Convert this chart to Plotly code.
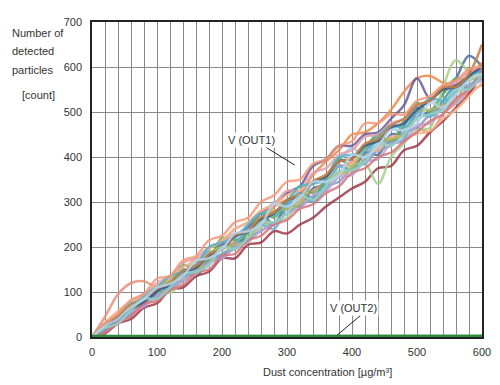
import plotly.graph_objects as go

x = [0, 20, 40, 60, 80, 100, 120, 140, 160, 180, 200, 220, 240, 260, 280, 300,
     320, 340, 360, 380, 400, 420, 440, 460, 480, 500, 520, 540, 560, 580, 600]

s01 = [0, 15, 35, 50, 80, 90, 105, 135, 140, 175, 180, 210, 220, 255, 250, 295, 290, 330, 340, 380, 370, 410, 405, 450, 450, 490, 500, 540, 575, 625, 600]
s02 = [0, 25, 45, 55, 90, 95, 130, 135, 170, 175, 205, 225, 240, 255, 290, 305, 320, 360, 390, 415, 450, 455, 475, 505, 545, 575, 580, 565, 560, 580, 610]
s03 = [0, 45, 95, 120, 124, 112, 135, 140, 175, 170, 205, 210, 235, 245, 280, 285, 305, 325, 345, 365, 390, 395, 425, 435, 465, 465, 455, 495, 520, 545, 560]
s04 = [0, 25, 40, 70, 80, 95, 130, 150, 145, 160, 200, 230, 220, 250, 300, 290, 310, 345, 340, 390, 420, 400, 420, 465, 450, 490, 530, 505, 540, 570, 580]
s05 = [0, 15, 45, 60, 90, 90, 120, 150, 135, 175, 210, 200, 235, 275, 250, 290, 320, 310, 350, 395, 380, 410, 450, 430, 470, 510, 490, 525, 560, 555, 590]
s06 = [0, 20, 40, 60, 70, 100, 120, 135, 160, 180, 205, 225, 245, 275, 295, 320, 335, 380, 395, 425, 425, 450, 455, 485, 515, 575, 530, 550, 560, 580, 595]
s07 = [0, 8, 30, 40, 65, 75, 105, 110, 135, 145, 175, 175, 205, 210, 235, 230, 250, 265, 290, 310, 330, 345, 375, 380, 415, 425, 455, 480, 510, 540, 590]
s08 = [0, 30, 40, 65, 95, 100, 110, 160, 150, 170, 220, 215, 230, 280, 265, 300, 335, 320, 350, 395, 380, 420, 450, 435, 480, 520, 500, 540, 575, 570, 590]
s09 = [0, 22, 42, 70, 95, 110, 98, 125, 150, 165, 185, 205, 210, 245, 255, 265, 300, 305, 330, 360, 380, 385, 340, 400, 430, 460, 465, 555, 615, 590, 580]
s10 = [0, 28, 52, 80, 90, 120, 135, 165, 175, 200, 210, 240, 255, 280, 295, 325, 325, 365, 375, 405, 415, 445, 450, 475, 485, 515, 525, 555, 565, 590, 595]
s11 = [0, 12, 38, 50, 80, 85, 115, 125, 150, 165, 185, 195, 220, 235, 255, 275, 295, 305, 335, 345, 375, 385, 415, 425, 455, 465, 495, 515, 545, 555, 575]
s12 = [0, 32, 58, 80, 95, 115, 130, 155, 170, 195, 215, 240, 255, 280, 295, 315, 325, 345, 355, 380, 385, 415, 415, 445, 445, 452, 458, 485, 505, 535, 565]
s13 = [0, 30, 45, 60, 90, 110, 105, 130, 160, 190, 175, 205, 240, 250, 240, 290, 320, 300, 330, 380, 370, 395, 440, 430, 440, 500, 490, 510, 555, 560, 585]
s14 = [0, 20, 45, 60, 75, 110, 125, 130, 140, 185, 200, 205, 215, 265, 280, 285, 295, 345, 355, 360, 375, 425, 435, 440, 450, 500, 505, 515, 525, 575, 580]
s15 = [0, 20, 36, 56, 68, 92, 104, 128, 140, 165, 175, 200, 212, 237, 250, 275, 287, 315, 325, 355, 360, 390, 395, 430, 435, 470, 475, 510, 520, 555, 570]
s16 = [0, 20, 50, 75, 80, 110, 135, 145, 160, 200, 210, 220, 250, 275, 270, 300, 335, 340, 355, 400, 405, 415, 445, 470, 465, 500, 530, 525, 540, 580, 590]
s17 = [0, 10, 32, 46, 74, 80, 104, 116, 144, 150, 180, 185, 215, 225, 250, 260, 285, 295, 320, 335, 365, 375, 400, 410, 435, 455, 480, 495, 530, 550, 590]
s18 = [0, 22, 40, 62, 78, 102, 116, 144, 154, 182, 194, 224, 234, 262, 274, 304, 314, 344, 356, 390, 396, 425, 435, 465, 475, 505, 525, 550, 555, 580, 600]
s19 = [0, 27, 48, 72, 84, 108, 120, 146, 158, 184, 196, 226, 236, 266, 276, 304, 316, 346, 361, 390, 396, 430, 440, 470, 485, 515, 525, 555, 556, 585, 650]
s20 = [0, 20, 30, 60, 85, 85, 110, 140, 145, 160, 200, 195, 220, 255, 255, 275, 315, 305, 335, 370, 370, 390, 430, 425, 450, 485, 495, 505, 550, 550, 585]
s21 = [0, 30, 52, 82, 96, 130, 136, 170, 180, 215, 225, 255, 265, 300, 315, 345, 350, 385, 395, 425, 435, 475, 475, 495, 495, 525, 535, 560, 570, 595, 600]
s22 = [0, 24, 40, 66, 84, 110, 118, 135, 170, 175, 195, 230, 235, 250, 295, 290, 310, 345, 345, 360, 405, 400, 425, 460, 460, 475, 520, 510, 540, 570, 585]

out2 = [2, 2, 2, 2, 2, 2, 2, 2, 2, 2, 2, 2, 2, 2, 2, 2, 2, 2, 2, 2, 2, 2, 2, 2, 2, 3, 3, 3, 2, 3, 3]

series = [s01, s02, s03, s04, s05, s06, s07, s08, s09, s10, s11,
          s12, s13, s14, s15, s16, s17, s18, s19, s20, s21, s22]
colors = ["#4a6fa5", "#ef8a4c", "#e9907c", "#a8c8e6", "#3f97a3", "#6e5a9a", "#a2394a",
          "#6fae5c", "#a9d18e", "#e6a0b0", "#8a9cc0", "#f5b48a", "#6aaed6", "#b2b55e",
          "#b9a3d6", "#56b4c8", "#d8767e", "#3b5a8c", "#c57f42", "#8fd3c1", "#f39a7a", "#b8d4ea"]

fig = go.Figure()
for ys, c in zip(series, colors):
    fig.add_trace(go.Scatter(x=x, y=ys, mode="lines",
                             line=dict(color=c, width=2.5, shape="spline", smoothing=1.0),
                             opacity=0.85, showlegend=False, hoverinfo="skip"))
fig.add_trace(go.Scatter(x=x, y=out2, mode="lines", line=dict(color="#2e8b3e", width=2.5),
                         showlegend=False, hoverinfo="skip"))

font = dict(family="Liberation Sans, Arial, sans-serif", size=11, color="#333333")

# page body has an 8px default margin, so the figure is 8px smaller and margins shifted
fig.update_layout(
    width=492, height=377,
    margin=dict(l=84, r=18, t=8, b=48),
    paper_bgcolor="white", plot_bgcolor="white",
    font=font,
    showlegend=False,
)
fig.update_xaxes(range=[0, 600], dtick=100, tick0=0, showgrid=True, gridcolor="#8a8a8a", gridwidth=1,
                 minor=dict(dtick=20, showgrid=True, gridcolor="#8a8a8a", gridwidth=1),
                 showline=True, linecolor="#222222", linewidth=1.5, mirror=True, ticks="", zeroline=False,
                 ticklabelstandoff=4)
fig.update_yaxes(range=[0, 700], dtick=100, tick0=0, showgrid=True, gridcolor="#8a8a8a", gridwidth=1,
                 showline=True, linecolor="#222222", linewidth=1.5, mirror=True, ticks="", zeroline=False,
                 ticklabelstandoff=6)

ylabel = [("Number of", 27, 10), ("detected", 46, 10), ("particles", 65, 10), ("[count]", 90, 20)]
for txt, py, px in ylabel:
    fig.add_annotation(text=txt, xref="paper", yref="paper", x=(px - 92) / 390, y=(337 - py) / 321,
                       xanchor="left", yanchor="middle", showarrow=False, font=font)

fig.add_annotation(text="Dust concentration [µg/m³]", xref="paper", yref="paper",
                   x=(327 - 92) / 390, y=(337 - 373) / 321, xanchor="center", yanchor="middle",
                   showarrow=False, font=font)

fig.add_annotation(text="V (OUT1)", x=245, y=437, showarrow=False, font=font,
                   bgcolor="white", borderpad=1)
fig.add_annotation(x=312, y=382, ax=266, ay=423, axref="x", ayref="y", showarrow=True,
                   arrowhead=0, arrowwidth=1, arrowcolor="#222222", text="")
fig.add_annotation(text="V (OUT2)", x=403, y=65, showarrow=False, font=font,
                   bgcolor="white", borderpad=1)
fig.add_annotation(x=377, y=4, ax=415, ay=50, axref="x", ayref="y", showarrow=True,
                   arrowhead=0, arrowwidth=1, arrowcolor="#222222", text="")

fig.write_html("out.html")
